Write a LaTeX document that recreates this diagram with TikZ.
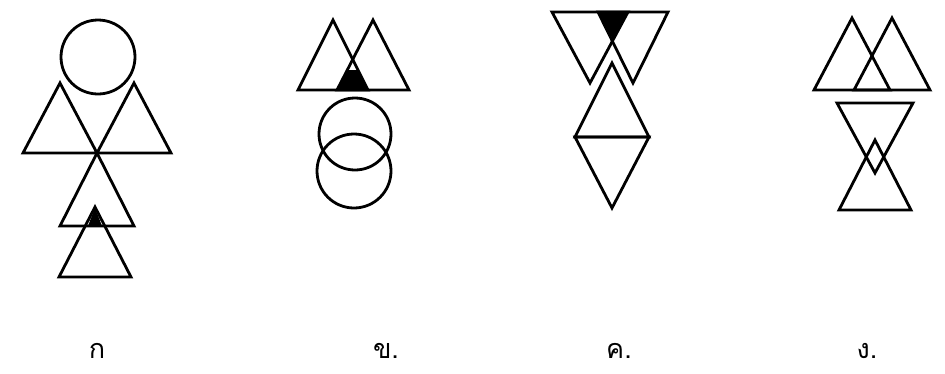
\documentclass[tikz,border=0pt]{standalone}
\usepackage{fontspec}
\newfontfamily\thaifont[Script=Thai]{Loma}
\usetikzlibrary{calc}

\begin{document}
\begin{tikzpicture}[x=1pt,y=-1pt,line width=2.8pt,line join=miter,
    figline/.style={draw=black},
    choice/.style={font=\thaifont\fontsize{27}{30}\selectfont,inner sep=0pt}]
    % half width and height of every triangle
    \def\triW{37}
    \def\triH{70}

    \useasboundingbox (0,0) rectangle (945,373);

    % Figure 1: circle over two triangles, two triangles below
    \draw[figline] (98,57) circle (37);
    \draw[figline] (60,83) -- ++(\triW,\triH) -- ++(-2*\triW,0) -- cycle;
    \draw[figline] (134,83) -- ++(\triW,\triH) -- ++(-2*\triW,0) -- cycle;
    \draw[figline] (97,153) -- ++(\triW,73) -- ++(-2*\triW,0) -- cycle;
    \fill (95,208) -- (102,226) -- (88,226) -- cycle;
    \draw[figline] (95,207) -- ++(36,\triH) -- ++(-72,0) -- cycle;

    % Figure 2: two overlapping triangles over two circles
    \begin{scope}
        \clip (300,70) rectangle (410,90);
        \fill (333,20) -- (368,90) -- (336,90) -- (373,20) -- cycle;
    \end{scope}
    \draw[figline] (333,20) -- ++(35,\triH) -- ++(-70,0) -- cycle;
    \draw[figline] (373,20) -- ++(36,\triH) -- ++(-72,0) -- cycle;
    \draw[figline] (355,134) circle (36);
    \draw[figline] (354,171) circle (37);

    % Figure 3: two inverted triangles over a diamond
    \fill (598,12) -- (628,12) -- (613,40) -- cycle;
    \draw[figline] (552,12) -- ++(2*\triW+2,0) -- ++(-\triW-1,71) -- cycle;
    \draw[figline] (598,12) -- ++(70,0) -- ++(-35,71) -- cycle;
    \draw[figline] (612,63) -- (649,137) -- (575,137) -- cycle;
    \draw[figline] (575,137) -- (649,137) -- (612,208) -- cycle;

    % Figure 4: two triangles over an hourglass
    \draw[figline] (852,18) -- ++(38,72) -- ++(-76,0) -- cycle;
    \draw[figline] (892,18) -- ++(38,72) -- ++(-76,0) -- cycle;
    \draw[figline] (837,103) -- ++(76,0) -- ++(-38,70) -- cycle;
    \draw[figline] (875,140) -- ++(36,\triH) -- ++(-72,0) -- cycle;

    % Labels of the choices
    \node[choice] (ka)  at (97,351)  {ก};
    \node[choice] (kho) at (386,351) {ข.};
    \node[choice] (kho2) at (619,351) {ค.};
    \node[choice] (ngo) at (867,351) {ง.};
\end{tikzpicture}
\end{document}
